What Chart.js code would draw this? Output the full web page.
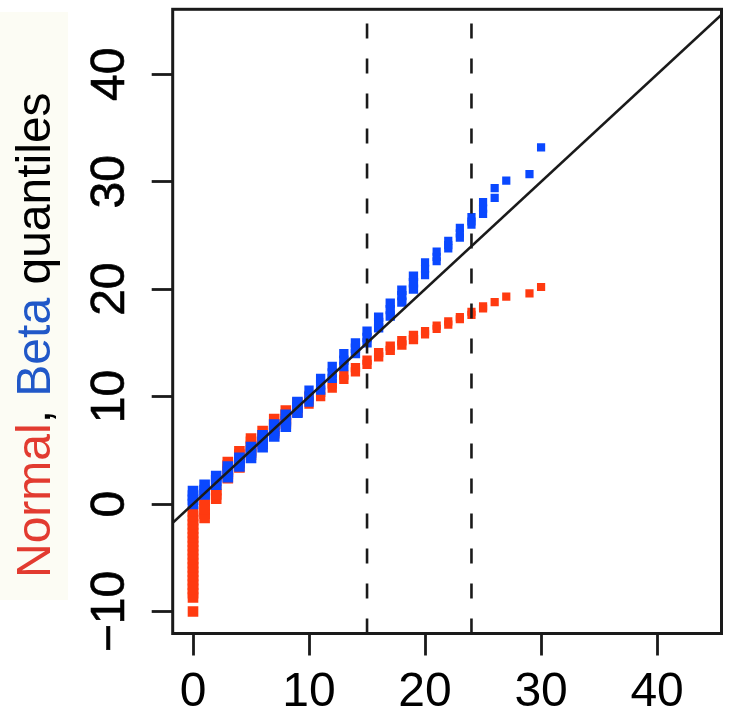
<!DOCTYPE html>
<html>
<head>
<meta charset="utf-8">
<script src="https://cdn.jsdelivr.net/npm/chart.js@4.4.1/dist/chart.umd.min.js"></script>
<style>
  html, body { margin: 0; padding: 0; background: #fff; }
  canvas { display: block; }
</style>
</head>
<body>
<canvas id="qq" width="729" height="716"></canvas>
<script>
// sample value (x) and the theoretical quantiles drawn at it (one list per x)
const normalX = [0, 1, 2, 3, 4, 5, 6, 7, 8, 9, 10, 11, 12, 13, 14, 15, 16, 17, 18, 19, 20, 21, 22, 23, 24, 25, 26, 27, 29, 30];
const normalY = [
  [-10.0, -8.7, -8.3, -7.9, -7.5, -7.1, -6.7, -6.3, -5.9, -5.5, -5.1, -4.7, -4.3, -3.9, -3.5, -3.1, -2.7, -2.3, -1.9, -1.5, -1.1, -0.7],
  [-1.3, -0.9, -0.5, -0.1, 0.3],
  [0.5, 0.9, 1.3],
  [2.4, 2.8, 3.2, 3.6, 3.9],
  [3.4, 3.8, 4.2, 4.6, 4.9],
  [4.6, 5.0, 5.4, 5.8, 6.1],
  [5.6, 6.0, 6.4, 6.8],
  [6.6, 7.0, 7.4, 7.9],
  [7.5, 7.9, 8.3, 8.7],
  [8.6, 9.0, 9.4],
  [9.3, 9.7, 10.1],
  [10.0, 10.4],
  [10.8, 11.2],
  [11.6, 12.0],
  [12.3, 12.7],
  [13.0, 13.4],
  [13.7, 14.1],
  [14.3, 14.7],
  [14.8, 15.2],
  [15.3, 15.7],
  [15.8, 16.1],
  [16.3, 16.6],
  [16.7, 17.0],
  [17.2, 17.4],
  [17.6, 17.9],
  [18.2, 18.4],
  [18.8],
  [19.3],
  [19.6],
  [20.2]
];

const betaX = [0, 1, 2, 3, 4, 5, 6, 7, 8, 9, 10, 11, 12, 13, 14, 15, 16, 17, 18, 19, 20, 21, 22, 23, 24, 25, 26, 27, 29, 30];
const betaY = [
  [0.0, 0.4, 0.8, 1.2],
  [0.9, 1.3, 1.8],
  [1.8, 2.2, 2.6],
  [2.5, 3.0, 3.5],
  [3.5, 3.9, 4.3],
  [4.3, 4.8, 5.3],
  [5.3, 5.8, 6.4],
  [6.3, 6.8, 7.4],
  [7.2, 7.7, 8.3],
  [8.5, 9.0, 9.5],
  [9.5, 10.0, 10.6],
  [10.6, 11.1, 11.7],
  [11.7, 12.2, 12.8],
  [12.8, 13.4, 14.0],
  [14.0, 14.5, 15.0],
  [15.0, 15.5, 16.1],
  [16.4, 16.9, 17.4],
  [17.5, 18.1, 18.7],
  [18.8, 19.4, 19.9],
  [20.0, 20.6, 21.2],
  [21.3, 21.9, 22.5],
  [22.6, 23.0, 23.5],
  [23.8, 24.1, 24.5],
  [24.8, 25.2, 25.7],
  [26.0, 26.3, 26.7],
  [27.0, 27.5, 28.1],
  [28.5, 29.4],
  [30.1],
  [30.7],
  [33.2]
];

const cutoffs = [15, 24];
const xTicks = [0, 10, 20, 30, 40];
const yTicks = [-10, 0, 10, 20, 30, 40];
const xRange = [-1.75, 45.55];
const yRange = [-12.05, 46.05];

const RED  = '#ff3a10';
const BLUE = '#0a48ff';
const INK  = '#1a1a1a';
const FONT = "'Liberation Sans', Arial, Helvetica, sans-serif";

function toPoints(xs, ys) {
  const pts = [];
  xs.forEach((x, i) => ys[i].forEach(y => pts.push({ x, y })));
  return pts;
}

// squares look a bit wider where the columns are dense
const squareSize = ctx => {
  const x = ctx.raw ? ctx.raw.x : 0;
  return x < 10 ? 7.5 : x < 20 ? 6.6 : 5.8;
};

const fmt = v => (v < 0 ? '\u2212' + Math.abs(v) : String(v));

const decor = {
  id: 'decor',
  beforeDraw(chart) {
    const c = chart.ctx;
    c.save();
    c.fillStyle = '#ffffff';
    c.fillRect(0, 0, chart.width, chart.height);
    c.fillStyle = '#fcfcf4';
    c.fillRect(0, 12, 68, 588);
    c.restore();
  },
  afterDatasetsDraw(chart) {
    const c = chart.ctx;
    const a = chart.chartArea;
    const ys = chart.scales.y;
    c.save();
    // box
    c.strokeStyle = INK;
    c.lineWidth = 3;
    c.strokeRect(a.left, a.top, a.right - a.left, a.bottom - a.top);

    // y tick labels, parallel to the axis
    c.fillStyle = '#000';
    c.strokeStyle = '#000';
    c.lineWidth = 0.6;
    c.font = `48px ${FONT}`;
    c.textAlign = 'center';
    c.textBaseline = 'alphabetic';
    yTicks.forEach(v => {
      c.save();
      c.translate(124, ys.getPixelForValue(v));
      c.rotate(-Math.PI / 2);
      c.fillText(fmt(v), 0, 0);
      c.strokeText(fmt(v), 0, 0);
      c.restore();
    });

    // axis title in three colours
    const parts = [['Normal', '#e23b30'], [', ', '#000'], ['Beta', '#2158c8'], [' quantiles', '#000']];
    c.translate(50, 578);
    c.rotate(-Math.PI / 2);
    c.textAlign = 'left';
    let off = 0;
    parts.forEach(([t, col]) => {
      c.fillStyle = col;
      c.fillText(t, off, 0);
      off += c.measureText(t).width;
    });
    c.restore();
  }
};

const datasets = [
  ...cutoffs.map(v => ({
    data: [{ x: v, y: yRange[0] }, { x: v, y: yRange[1] }],
    showLine: true,
    borderColor: INK,
    borderWidth: 2.6,
    borderDash: [15, 20],
    pointRadius: 0,
    order: 0
  })),
  {
    data: [{ x: xRange[0], y: xRange[0] }, { x: xRange[1], y: xRange[1] }],
    showLine: true,
    borderColor: INK,
    borderWidth: 2.6,
    pointRadius: 0,
    order: 1
  },
  {
    label: 'Beta',
    data: toPoints(betaX, betaY),
    pointStyle: 'rect',
    pointRadius: squareSize,
    pointBorderWidth: 0,
    backgroundColor: BLUE,
    borderColor: BLUE,
    order: 2
  },
  {
    label: 'Normal',
    data: toPoints(normalX, normalY),
    pointStyle: 'rect',
    pointRadius: squareSize,
    pointBorderWidth: 0,
    backgroundColor: RED,
    borderColor: RED,
    order: 3
  }
];

new Chart(document.getElementById('qq'), {
  type: 'scatter',
  data: { datasets },
  plugins: [decor],
  options: {
    responsive: false,
    animation: false,
    events: [],
    layout: { padding: { top: 9.3, right: 3.3, left: 0, bottom: 0 } },
    plugins: { legend: { display: false }, tooltip: { enabled: false } },
    scales: {
      x: {
        type: 'linear',
        min: xRange[0],
        max: xRange[1],
        afterBuildTicks: s => { s.ticks = xTicks.map(v => ({ value: v })); },
        afterFit: s => { s.height = 82.5; },
        grid: { drawOnChartArea: false, tickLength: 22, tickWidth: 2.8, tickColor: INK },
        border: { display: false },
        ticks: {
          color: '#000',
          font: { family: FONT, size: 48 },
          padding: 8,
          maxRotation: 0,
          autoSkip: false,
          callback: v => fmt(v)
        }
      },
      y: {
        type: 'linear',
        min: yRange[0],
        max: yRange[1],
        afterBuildTicks: s => { s.ticks = yTicks.map(v => ({ value: v })); },
        afterFit: s => { s.width = 172.7; },
        grid: { drawOnChartArea: false, tickLength: 21, tickWidth: 2.8, tickColor: INK },
        border: { display: false },
        ticks: { display: false }
      }
    }
  }
});
</script>
</body>
</html>
